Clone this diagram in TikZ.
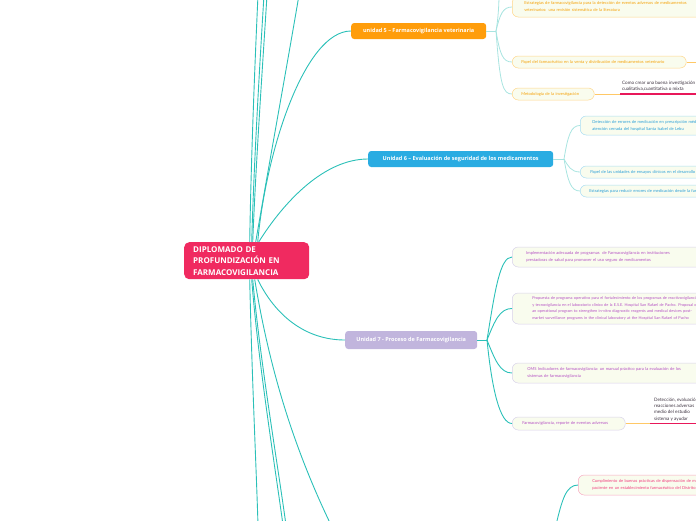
\documentclass[tikz,border=0pt]{standalone}
\usepackage{fontspec}
\setmainfont{Lato}
\newfontfamily\headfont{Open Sans}
\usetikzlibrary{calc}
\definecolor{tealm}{HTML}{2BC0B8}
\definecolor{tealp}{HTML}{A8E4E0}
\definecolor{centr}{HTML}{F02A60}
\definecolor{orng}{HTML}{FF9D0B}
\definecolor{orngtxt}{HTML}{F5A20A}
\definecolor{orngbrd}{HTML}{FFD68A}
\definecolor{orngstub}{HTML}{FFC866}
\definecolor{blu}{HTML}{2AACE2}
\definecolor{blutxt}{HTML}{2A9FD8}
\definecolor{blubrd}{HTML}{A8DDF3}
\definecolor{purp}{HTML}{C1B5DD}
\definecolor{purptxt}{HTML}{B552C4}
\definecolor{purpbrd}{HTML}{D8D2EA}
\definecolor{pnktxt}{HTML}{F0407F}
\definecolor{pnkbrd}{HTML}{F7A8C2}
\definecolor{childfill}{HTML}{F9FCEE}
\definecolor{redline}{HTML}{E8185A}
\definecolor{notetxt}{HTML}{3D3340}
\tikzset{
  mainline/.style={draw=tealm, line width=0.9pt},
  subline/.style={draw=tealp, line width=0.8pt},
  subdark/.style={draw=tealm, line width=0.9pt},
  unitbox/.style={rounded corners=3pt, text=white, anchor=west, inner sep=0pt,
    font=\headfont\bfseries\fontsize{5.5}{7}\selectfont},
  childbox/.style={rounded corners=6pt, fill=childfill, line width=0.5pt, anchor=west,
    align=left, inner ysep=0pt, font=\fontsize{4.1}{7}\selectfont},
  ostub/.style={draw=orngstub, line width=0.8pt},
  rline/.style={draw=redline, line width=1.3pt},
  notebox/.style={anchor=south west, align=left, inner sep=0pt, text=notetxt,
    font=\fontsize{4.6}{6.4}\selectfont}
}
\begin{document}
\begin{tikzpicture}[x=1pt,y=-1pt]
\useasboundingbox (0,0) rectangle (696,520);
\clip (0,0) rectangle (696,520);

% central node
\node[fill=centr, rounded corners=5pt, anchor=north west, inner xsep=9pt, inner ysep=0pt,
  minimum height=37pt, text width=107pt, align=left, text=white,
  font=\headfont\bfseries\fontsize{8}{11.5}\selectfont] (c) at (184,242)
  {DIPLOMADO DE\\PROFUNDIZACIÓN EN\\FARMACOVIGILANCIA};

% unit nodes
\node[unitbox, fill=orng, minimum width=135pt, minimum height=16pt] (u5) at (351,31)
  {unidad 5 – Farmacovigilancia veterinaria};
\node[unitbox, fill=blu, minimum width=185pt, minimum height=16pt] (u6) at (368,159)
  {Unidad 6 – Evaluación de seguridad de los medicamentos};
\node[unitbox, fill=purp, minimum width=132pt, minimum height=18pt] (u7) at (345,340)
  {Unidad 7 - Proceso de Farmacovigilancia};

% off-picture ends
\coordinate (t1) at (258,-5);
\coordinate (t2) at (264,-5);
\coordinate (t3) at (267,-5);
\coordinate (t4) at (299,-5);
\coordinate (b1) at (258,525);
\coordinate (b2) at (283,525);
\coordinate (b3) at (286,525);
\coordinate (b4) at (331,525);

% connectors from center
\draw[mainline] ($(c.north)+(11,0)$) .. controls (266,150) and (305,31) .. (u5.west);
\draw[mainline] ($(c.north)+(12,0)$) .. controls (285,200) and (325,159) .. (u6.west);
\draw[mainline] ($(c.south)+(11,0)$) .. controls (275,315) and (305,340) .. (u7.west);
\draw[mainline] ($(c.north)+(3,0)$) .. controls (251,160) and (255,60) .. (t1);
\draw[mainline] ($(c.north)+(5,0)$) .. controls (254,160) and (260,60) .. (t2);
\draw[mainline] ($(c.north)+(6,0)$) .. controls (256,160) and (263,60) .. (t3);
\draw[mainline] ($(c.north)+(9,0)$) .. controls (268,170) and (288,60) .. (t4);
\draw[mainline] ($(c.south)+(3,0)$) .. controls (252,380) and (256,460) .. (b1);
\draw[mainline] ($(c.south)+(5,0)$) .. controls (258,360) and (274,460) .. (b2);
\draw[mainline] ($(c.south)+(6,0)$) .. controls (260,360) and (277,460) .. (b3);
\draw[mainline] ($(c.south)+(8,0)$) .. controls (268,360) and (290,440) .. (b4);

% unit 5 children
\node[childbox, draw=orngbrd, text=orngtxt, inner xsep=12pt, text width=260pt, minimum height=20pt] (o1) at (512,7)
  {Estrategias de farmacovigilancia para la detección de eventos adversos de medicamentos\\veterinarios: una revisión sistemática de la literatura};
\node[childbox, draw=orngbrd, text=orngtxt, inner xsep=9pt, text width=156pt, minimum height=12pt] (o2) at (512,62)
  {\mbox{Papel del farmacéutico en la venta y distribución de medicamentos veterinario}};
\node[childbox, draw=orngbrd, text=orngtxt, inner xsep=9pt, text width=64pt, minimum height=12pt] (o3) at (512,94)
  {\mbox{Metodología de la investigación}};
\coordinate (j5) at (496,31);
\coordinate (t5) at (499,-5);
\draw[subline] (u5.east) -- (j5);
\draw[subline] (j5) .. controls (498,20) and (499,5) .. (t5);
\draw[subline] (j5) .. controls (500,14) and (503,7) .. (o1.west);
\draw[subline] (j5) .. controls (500,55) and (503,62) .. (o2.west);
\draw[subline] (j5) .. controls (500,86) and (503,94) .. (o3.west);
\coordinate (o2e) at (705,62);
\draw[ostub] (o2.east) -- (o2e);
\coordinate (n1s) at (620,94);
\coordinate (n1e) at (705,94);
\draw[ostub] (o3.east) -- (n1s);
\draw[rline] (n1s) -- (n1e);
\node[notebox] (n1) at (622,91.5) {Como crear una buena investigación\\cualitativa,cuantitativa o mixta};

% unit 6 children
\node[childbox, draw=blubrd, text=blutxt, inner xsep=12pt, text width=220pt, minimum height=19pt] (bb1) at (580,125.5)
  {Detección de errores de medicación en prescripción médica en el servicio de\\atención cerrada del hospital Santa Isabel de Lebu};
\node[childbox, draw=blubrd, text=blutxt, inner xsep=10pt, text width=220pt, minimum height=12pt] (bb2) at (580,172)
  {Papel de las unidades de ensayos clínicos en el desarrollo de medicamentos};
\node[childbox, draw=blubrd, text=blutxt, inner xsep=9pt, text width=220pt, minimum height=12pt] (bb3) at (580,191)
  {Estrategias para reducir errores de medicación desde la farmacia};
\coordinate (j6) at (564,159);
\draw[subline] (u6.east) -- (j6);
\draw[subline] (j6) .. controls (568,135) and (571,125.5) .. (bb1.west);
\draw[subline] (j6) .. controls (568,166) and (571,172) .. (bb2.west);
\draw[subline] (j6) .. controls (568,182) and (571,191) .. (bb3.west);

% unit 7 children
\node[childbox, draw=purpbrd, text=purptxt, inner xsep=14pt, text width=240pt, minimum height=20pt] (p1) at (512,257)
  {Implementación adecuada de programas \ de Farmacovigilancia en instituciones\\prestadoras de salud para promover el uso seguro de medicamentos};
\node[childbox, draw=purpbrd, text=purptxt, inner xsep=20pt, text width=260pt, minimum height=31pt,
  font=\fontsize{3.9}{6.4}\selectfont] (p2) at (512,308.5)
  {Propuesta de programa operativo para el fortalecimiento de los programas de reactivovigilancia\\y tecnovigilancia en el laboratorio clínico de la E.S.E. Hospital San Rafael de Pacho. Proposal of\\an operational program to strengthen in-vitro diagnostic reagents and medical devices post-\\market surveillance programs in the clinical laboratory at the Hospital San Rafael of Pacho};
\node[childbox, draw=purpbrd, text=purptxt, inner xsep=15pt, text width=240pt, minimum height=20pt] (p3) at (512,373)
  {OMS Indicadores de farmacovigilancia: un manual práctico para la evaluación de los\\sistemas de farmacovigilancia};
\node[childbox, draw=purpbrd, text=purptxt, inner xsep=10pt, text width=93pt, minimum height=13pt] (p4) at (512,423.5)
  {\mbox{Farmacovigilancia, reporte de eventos adversos}};
\coordinate (j7) at (487,340);
\draw[subdark] (u7.east) -- (j7);
\draw[subdark] (j7) .. controls (495,290) and (500,257) .. (p1.west);
\draw[subdark] (j7) .. controls (495,320) and (500,308.5) .. (p2.west);
\draw[subdark] (j7) .. controls (495,360) and (500,373) .. (p3.west);
\draw[subdark] (j7) .. controls (492,390) and (500,423.5) .. (p4.west);
\coordinate (n2s) at (650,423.5);
\coordinate (n2e) at (705,423.5);
\draw[ostub] (p4.east) -- (n2s);
\draw[rline] (n2s) -- (n2e);
\node[notebox, font=\fontsize{4.6}{6.2}\selectfont] (n2) at (654,421)
  {Detección, evaluación\\reacciones adversas\\medio del estudio\\sistema y ayudar};

% bottom pink child
\node[childbox, draw=pnkbrd, text=pnktxt, inner xsep=14pt, text width=240pt, minimum height=20pt] (k1) at (578,485)
  {Cumplimiento de buenas prácticas de dispensación de medicamentos al\\paciente en un establecimiento farmacéutico del Distrito};
\coordinate (b5) at (556,525);
\draw[subdark] (b5) .. controls (562,500) and (566,485) .. (k1.west);
\end{tikzpicture}
\end{document}
